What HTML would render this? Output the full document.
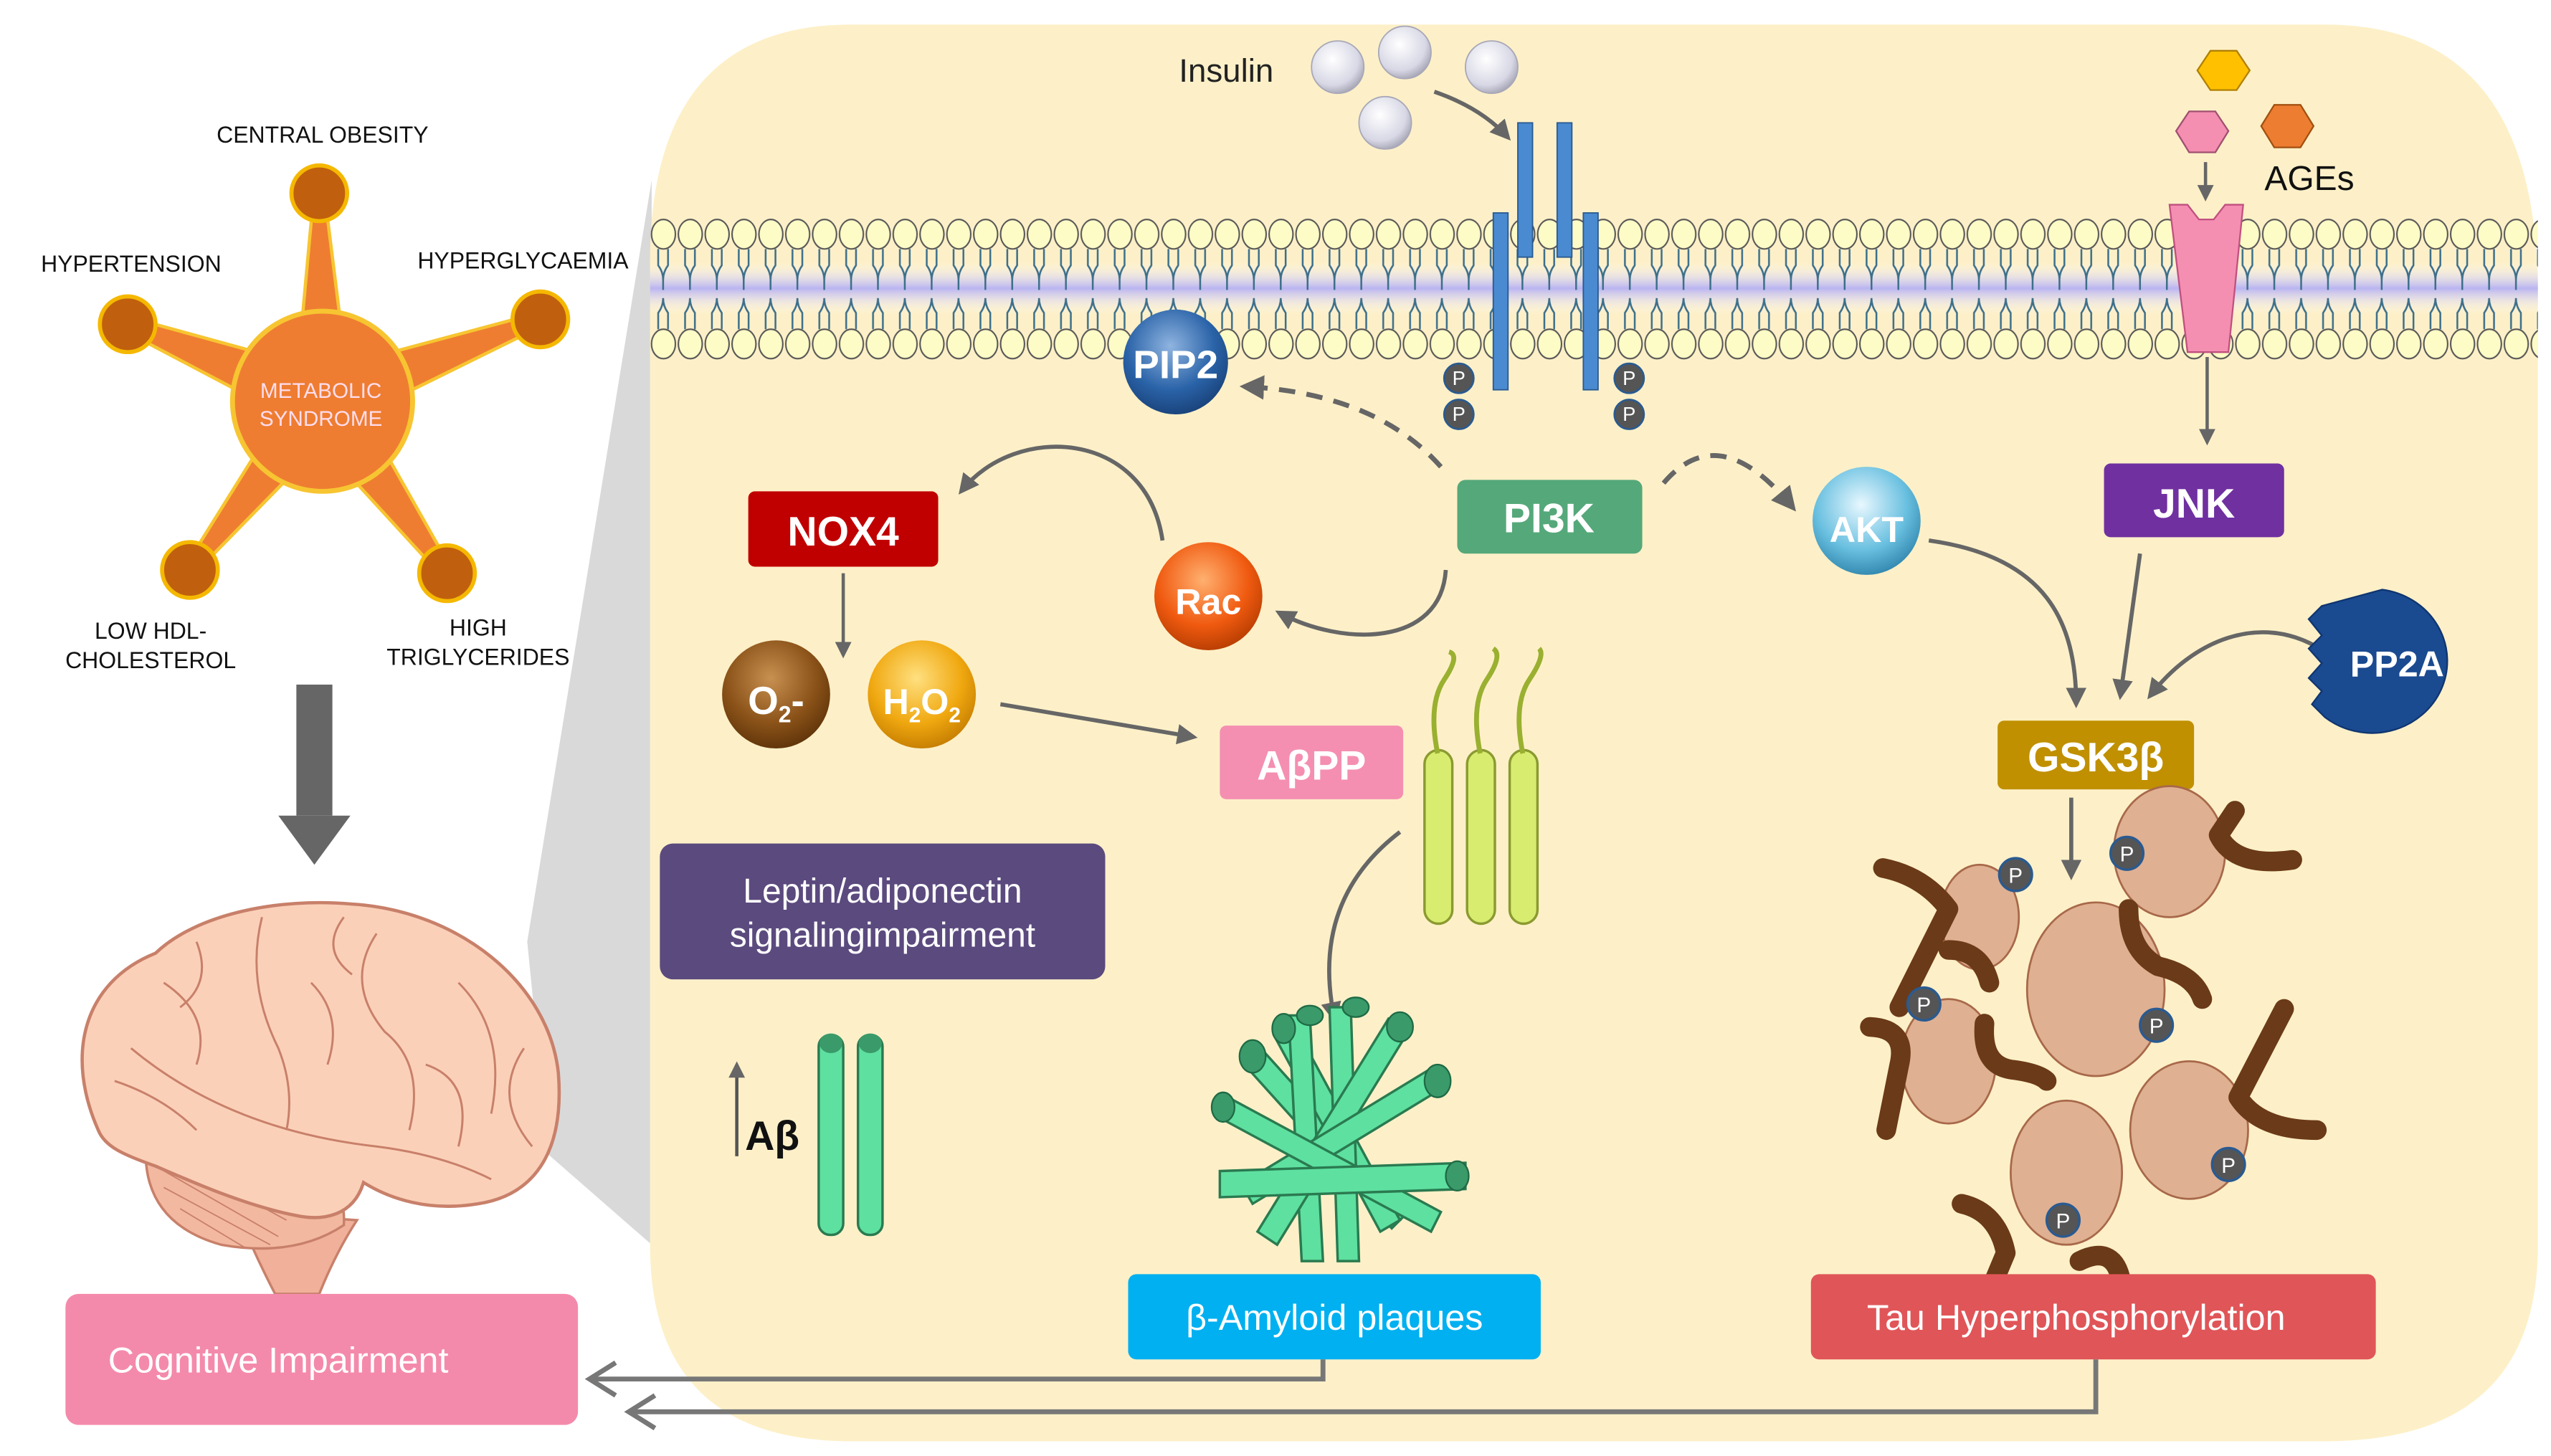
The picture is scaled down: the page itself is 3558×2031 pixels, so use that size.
<!DOCTYPE html>
<html><head><meta charset="utf-8"><style>
html,body{margin:0;padding:0;background:#fff;width:3558px;height:2031px;overflow:hidden}
svg{display:block}
text{font-family:"Liberation Sans",sans-serif}
</style></head><body>
<svg width="3558" height="2031" viewBox="0 0 1558 889" preserveAspectRatio="none" xmlns="http://www.w3.org/2000/svg">
<defs>
<pattern id="heads" x="397" y="0" width="16.4" height="889" patternUnits="userSpaceOnUse">
 <path d="M5,152 v10 q3,4 3,9 M11,152 v10 q-3,4 -3,9 M8,171 v6" stroke="#3d6f8a" stroke-width="1.1" fill="none"/>
 <path d="M5,201 v-10 q3,-4 3,-9 M11,201 v-10 q-3,-4 -3,-9" stroke="#3d6f8a" stroke-width="1.1" fill="none"/>
 <ellipse cx="8.2" cy="143" rx="7.3" ry="9" fill="#fdfbc6" stroke="#555" stroke-width="0.9"/>
 <ellipse cx="8.2" cy="210" rx="7.3" ry="9" fill="#fdfbc6" stroke="#555" stroke-width="0.9"/>
</pattern>
<linearGradient id="band" x1="0" y1="0" x2="0" y2="1">
 <stop offset="0" stop-color="#fff" stop-opacity="0"/><stop offset="0.5" stop-color="#b9b4f0"/><stop offset="1" stop-color="#fff" stop-opacity="0"/>
</linearGradient>
<radialGradient id="gPIP" cx="0.45" cy="0.35" r="0.7"><stop offset="0" stop-color="#8fb4e0"/><stop offset="0.6" stop-color="#2a63a8"/><stop offset="1" stop-color="#173e74"/></radialGradient>
<radialGradient id="gRac" cx="0.45" cy="0.35" r="0.7"><stop offset="0" stop-color="#ffb070"/><stop offset="0.6" stop-color="#f05a10"/><stop offset="1" stop-color="#b03a00"/></radialGradient>
<radialGradient id="gAKT" cx="0.45" cy="0.35" r="0.7"><stop offset="0" stop-color="#e8f8ff"/><stop offset="0.6" stop-color="#6ac0e0"/><stop offset="1" stop-color="#2a80a8"/></radialGradient>
<radialGradient id="gO2" cx="0.45" cy="0.35" r="0.7"><stop offset="0" stop-color="#c89050"/><stop offset="0.6" stop-color="#8a5218"/><stop offset="1" stop-color="#5a3008"/></radialGradient>
<radialGradient id="gH2" cx="0.45" cy="0.35" r="0.7"><stop offset="0" stop-color="#ffe080"/><stop offset="0.6" stop-color="#f0a810"/><stop offset="1" stop-color="#c07800"/></radialGradient>
<radialGradient id="gIns" cx="0.4" cy="0.35" r="0.7"><stop offset="0" stop-color="#fff"/><stop offset="0.7" stop-color="#d8d8e6"/><stop offset="1" stop-color="#a0a0b0"/></radialGradient>
<marker id="ah" viewBox="0 0 10 10" refX="8" refY="5" markerWidth="5" markerHeight="5" orient="auto"><path d="M0,0 L10,5 L0,10 z" fill="#666"/></marker>
</defs>

<!-- gray wedge -->
<polygon points="322,575 398,110 398,760 335,705" fill="#d9d9d9"/>
<!-- panel -->
<path d="M520,15 H1420 Q1550,15 1550,180 V760 Q1550,880 1420,880 H520 Q397,880 397,760 V160 Q397,15 520,15 Z" fill="#fdf0c8"/>

<!-- membrane -->
<rect x="397" y="160" width="1153" height="32" fill="url(#band)"/>
<rect x="397" y="132" width="1153" height="90" fill="url(#heads)"/>

<!-- receptor -->
<rect x="927" y="75" width="9" height="82" fill="#4a8ad0" stroke="#2a5a90" stroke-width="0.8"/>
<rect x="951" y="75" width="9" height="82" fill="#4a8ad0" stroke="#2a5a90" stroke-width="0.8"/>
<rect x="912" y="130" width="9" height="108" fill="#4a8ad0" stroke="#2a5a90" stroke-width="0.8"/>
<rect x="967" y="130" width="9" height="108" fill="#4a8ad0" stroke="#2a5a90" stroke-width="0.8"/>
<g fill="#555" stroke="#2a5a90" stroke-width="1.2">
<circle cx="891" cy="231" r="9"/><circle cx="891" cy="253" r="9"/><circle cx="995" cy="231" r="9"/><circle cx="995" cy="253" r="9"/>
</g>
<g fill="#fff" font-size="12" text-anchor="middle"><text x="891" y="235">P</text><text x="891" y="257">P</text><text x="995" y="235">P</text><text x="995" y="257">P</text></g>

<!-- insulin -->
<g fill="url(#gIns)" stroke="#a8a8b8" stroke-width="0.8">
<circle cx="817" cy="41" r="16"/><circle cx="858" cy="32" r="16"/><circle cx="911" cy="41" r="16"/><circle cx="846" cy="75" r="16"/>
</g>
<text x="720" y="50" font-size="20" fill="#222">Insulin</text>
<path d="M876,56 Q905,66 921,84" stroke="#666" stroke-width="2.5" fill="none" marker-end="url(#ah)"/>

<!-- AGEs -->
<polygon points="1350,31 1366,31 1374,43 1366,55 1350,55 1342,43" fill="#ffc000" stroke="#b08000" stroke-width="1"/>
<polygon points="1337,68 1353,68 1361,80 1353,93 1337,93 1329,80" fill="#f48fb1" stroke="#a05070" stroke-width="1"/>
<polygon points="1389,64 1405,64 1413,77 1405,90 1389,90 1381,77" fill="#ed7d31" stroke="#a05010" stroke-width="1"/>
<text x="1383" y="116" font-size="21" fill="#111">AGEs</text>
<line x1="1347" y1="99" x2="1347" y2="121" stroke="#666" stroke-width="2" marker-end="url(#ah)"/>
<path d="M1325,125 L1336,125 L1343,134 L1352,134 L1359,125 L1370,125 L1361,215 L1336,215 Z" fill="#f48fb1" stroke="#c05080" stroke-width="1"/>
<line x1="1348" y1="218" x2="1348" y2="270" stroke="#666" stroke-width="2" marker-end="url(#ah)"/>

<!-- PIP2 etc -->
<circle cx="718" cy="221" r="32" fill="url(#gPIP)"/>
<text x="718" y="231" font-size="24" font-weight="bold" fill="#fff" text-anchor="middle">PIP2</text>
<path d="M880,285 Q840,240 760,236" stroke="#666" stroke-width="3" stroke-dasharray="10,7" fill="none" marker-end="url(#ah)"/>
<path d="M1016,295 Q1050,255 1095,310" stroke="#666" stroke-width="3" stroke-dasharray="10,7" fill="none" marker-end="url(#ah)"/>

<rect x="890" y="293" width="113" height="45" rx="5" fill="#55a87a"/>
<text x="946" y="325" font-size="25" font-weight="bold" fill="#fff" text-anchor="middle">PI3K</text>

<circle cx="1140" cy="318" r="33" fill="url(#gAKT)"/>
<text x="1140" y="331" font-size="22" font-weight="bold" fill="#fff" text-anchor="middle">AKT</text>

<rect x="1285" y="283" width="110" height="45" rx="4" fill="#7030a0"/>
<text x="1340" y="316" font-size="25" font-weight="bold" fill="#fff" text-anchor="middle">JNK</text>

<rect x="457" y="300" width="116" height="46" rx="4" fill="#c00000"/>
<text x="515" y="333" font-size="25" font-weight="bold" fill="#fff" text-anchor="middle">NOX4</text>

<circle cx="738" cy="364" r="33" fill="url(#gRac)"/>
<text x="738" y="375" font-size="22" font-weight="bold" fill="#fff" text-anchor="middle">Rac</text>
<path d="M710,330 C700,262 620,258 587,300" stroke="#666" stroke-width="2.5" fill="none" marker-end="url(#ah)"/>
<path d="M883,348 C880,395 820,395 781,374" stroke="#666" stroke-width="2.5" fill="none" marker-end="url(#ah)"/>
<line x1="515" y1="350" x2="515" y2="400" stroke="#666" stroke-width="2" marker-end="url(#ah)"/>

<circle cx="474" cy="424" r="33" fill="url(#gO2)"/>
<text x="474" y="436" font-size="24" font-weight="bold" fill="#fff" text-anchor="middle">O<tspan font-size="14" dy="5">2</tspan><tspan dy="-5">-</tspan></text>
<circle cx="563" cy="424" r="33" fill="url(#gH2)"/>
<text x="563" y="436" font-size="22" font-weight="bold" fill="#fff" text-anchor="middle">H<tspan font-size="13" dy="5">2</tspan><tspan dy="-5">O</tspan><tspan font-size="13" dy="5">2</tspan></text>
<line x1="611" y1="430" x2="729" y2="450" stroke="#666" stroke-width="2.5" marker-end="url(#ah)"/>

<rect x="745" y="443" width="112" height="45" rx="4" fill="#f48fb1"/>
<text x="801" y="476" font-size="25" font-weight="bold" fill="#fff" text-anchor="middle">AβPP</text>

<!-- fibrils -->
<g stroke="#8a9a30" stroke-width="1.5" fill="#d8ec70">
<rect x="870" y="458" width="17" height="106" rx="8.5"/>
<rect x="896" y="458" width="17" height="106" rx="8.5"/>
<rect x="922" y="458" width="17" height="106" rx="8.5"/>
</g>
<g stroke="#9ab030" stroke-width="3" fill="none">
<path d="M878,460 Q872,430 882,415 Q892,400 885,398"/>
<path d="M904,460 Q898,430 908,415 Q918,400 912,396"/>
<path d="M930,460 Q924,430 934,415 Q944,400 940,396"/>
</g>
<path d="M855,508 Q800,550 815,622" stroke="#666" stroke-width="2.5" fill="none" marker-end="url(#ah)"/>

<!-- plaque -->
<g stroke="#2a7a50" stroke-width="1.5" fill="#5ee0a0">
<path d="M770,640 L860,740 L850,750 L760,650 Z"/>
<path d="M790,625 L855,745 L843,752 L778,632 Z"/>
<path d="M800,620 L808,770 L795,770 L787,620 Z"/>
<path d="M825,615 L830,770 L817,770 L812,615 Z"/>
<path d="M860,630 L780,760 L768,752 L848,622 Z"/>
<path d="M880,665 L765,735 L758,723 L873,653 Z"/>
<path d="M750,670 L880,740 L874,752 L744,682 Z"/>
<path d="M745,715 L895,710 L895,726 L745,731 Z"/>
</g>
<g fill="#3a9a6a" stroke="#1f6a45" stroke-width="1">
<ellipse cx="765" cy="645" rx="8" ry="10"/><ellipse cx="784" cy="628" rx="7" ry="9"/><ellipse cx="800" cy="620" rx="8" ry="6"/>
<ellipse cx="828" cy="615" rx="8" ry="6"/><ellipse cx="855" cy="627" rx="8" ry="9"/><ellipse cx="878" cy="660" rx="8" ry="10"/>
<ellipse cx="747" cy="676" rx="7" ry="9"/><ellipse cx="890" cy="718" rx="7" ry="9"/>
</g>

<!-- leptin -->
<rect x="403" y="515" width="272" height="83" rx="8" fill="#5b4a7e"/>
<text x="539" y="551" font-size="21" fill="#fff" text-anchor="middle">Leptin/adiponectin</text>
<text x="539" y="578" font-size="21" fill="#fff" text-anchor="middle">signalingimpairment</text>

<!-- Aβ -->
<line x1="450" y1="706" x2="450" y2="650" stroke="#555" stroke-width="2" marker-end="url(#ah)"/>
<text x="455" y="702" font-size="25" font-weight="bold" fill="#111">Aβ</text>
<g stroke="#2a7a50" stroke-width="1.5" fill="#5ee0a0">
<rect x="500" y="632" width="15" height="122" rx="7"/><rect x="524" y="632" width="15" height="122" rx="7"/>
</g>
<ellipse cx="507.5" cy="637" rx="7" ry="6" fill="#3a9a6a"/><ellipse cx="531.5" cy="637" rx="7" ry="6" fill="#3a9a6a"/>

<!-- GSK -->
<rect x="1220" y="440" width="120" height="42" rx="4" fill="#c09000"/>
<text x="1280" y="471" font-size="25" font-weight="bold" fill="#fff" text-anchor="middle">GSK3β</text>
<path d="M1178,330 C1250,340 1268,380 1268,430" stroke="#666" stroke-width="2.5" fill="none" marker-end="url(#ah)"/>
<line x1="1307" y1="338" x2="1295" y2="425" stroke="#666" stroke-width="2.5" marker-end="url(#ah)"/>
<path d="M1415,395 C1380,375 1340,390 1313,425" stroke="#666" stroke-width="2.5" fill="none" marker-end="url(#ah)"/>
<path d="M1455,360 A46,44 0 1,1 1420,438 L1412,430 L1418,422 L1410,414 L1418,405 L1410,396 L1418,388 L1410,378 L1418,370 Z" fill="#1a4a90" stroke="#0f3570" stroke-width="1"/>
<text x="1464" y="413" font-size="22" font-weight="bold" fill="#fff" text-anchor="middle">PP2A</text>
<line x1="1265" y1="487" x2="1265" y2="535" stroke="#666" stroke-width="2.5" marker-end="url(#ah)"/>

<!-- tau -->
<g fill="#dfb092" stroke="#a8684a" stroke-width="1.2">
<ellipse cx="1209" cy="560" rx="24" ry="32"/>
<ellipse cx="1325" cy="520" rx="34" ry="40"/>
<ellipse cx="1280" cy="604" rx="42" ry="53"/>
<ellipse cx="1190" cy="648" rx="29" ry="38"/>
<ellipse cx="1337" cy="690" rx="36" ry="42"/>
<ellipse cx="1262" cy="716" rx="34" ry="44"/>
</g>
<g stroke="#6b3a18" stroke-width="12" fill="none" stroke-linecap="round" stroke-linejoin="round">
<path d="M1150,530 Q1175,535 1190,555 L1160,615"/>
<path d="M1190,580 Q1210,580 1215,600"/>
<path d="M1365,495 L1355,510 Q1365,530 1400,525"/>
<path d="M1300,555 Q1300,580 1318,590 Q1340,595 1345,610"/>
<path d="M1142,627 Q1165,628 1160,650 L1152,690"/>
<path d="M1212,625 Q1210,650 1228,653 Q1245,655 1250,660"/>
<path d="M1395,616 L1367,670 Q1380,690 1415,690"/>
<path d="M1198,735 Q1220,740 1225,765 L1202,820"/>
<path d="M1270,770 Q1290,760 1295,780"/>
</g>
<g fill="#555" stroke="#2a5a90" stroke-width="1.5">
<circle cx="1231" cy="534" r="10"/><circle cx="1299" cy="521" r="10"/><circle cx="1175" cy="613" r="10"/>
<circle cx="1317" cy="626" r="10"/><circle cx="1361" cy="711" r="10"/><circle cx="1260" cy="745" r="10"/>
</g>
<g fill="#fff" font-size="13" text-anchor="middle">
<text x="1231" y="539">P</text><text x="1299" y="526">P</text><text x="1175" y="618">P</text>
<text x="1317" y="631">P</text><text x="1361" y="716">P</text><text x="1260" y="750">P</text>
</g>

<!-- bottom boxes -->
<rect x="689" y="778" width="252" height="52" rx="5" fill="#00b0f0"/>
<text x="815" y="812" font-size="22" fill="#fff" text-anchor="middle" font-family="Liberation Serif,serif">β-Amyloid  plaques</text>
<rect x="1106" y="778" width="345" height="52" rx="5" fill="#e05558"/>
<text x="1268" y="812" font-size="22" fill="#fff" text-anchor="middle">Tau  Hyperphosphorylation</text>
<path d="M808,830 V842 H362" stroke="#777" stroke-width="3" fill="none"/>
<path d="M376,832 L360,842 L376,852" stroke="#777" stroke-width="3" fill="none"/>
<path d="M1280,830 V862 H385" stroke="#777" stroke-width="3" fill="none"/>
<path d="M400,852 L384,862 L400,872" stroke="#777" stroke-width="3" fill="none"/>

<!-- left side: star -->
<g fill="#ee7d31" stroke="#f7c531" stroke-width="2" stroke-linejoin="round">
<polygon points="180,245 214,245 199,125 191,125"/>
<polygon points="204,228 190,262 76,202 80,194"/>
<polygon points="203,262 191,228 329,191 331,199"/>
<polygon points="211,256 183,234 113,346 119,350"/>
<polygon points="212,235 182,256 270,352 276,348"/>
</g>
<circle cx="197" cy="245" r="55" fill="#ee7d31" stroke="#f7c531" stroke-width="3"/>
<g fill="#c0600e" stroke="#f5b800" stroke-width="2.5">
<circle cx="195" cy="118" r="17"/><circle cx="78" cy="198" r="17"/><circle cx="330" cy="195" r="17"/>
<circle cx="116" cy="348" r="17"/><circle cx="273" cy="350" r="17"/>
</g>
<text x="196" y="243" font-size="13" fill="#fde" text-anchor="middle">METABOLIC</text>
<text x="196" y="260" font-size="13" fill="#fde" text-anchor="middle">SYNDROME</text>
<g font-size="14" fill="#111">
<text x="197" y="87" text-anchor="middle">CENTRAL OBESITY</text>
<text x="25" y="166">HYPERTENSION</text>
<text x="255" y="164">HYPERGLYCAEMIA</text>
<text x="92" y="390" text-anchor="middle">LOW HDL-</text>
<text x="92" y="408" text-anchor="middle">CHOLESTEROL</text>
<text x="292" y="388" text-anchor="middle">HIGH</text>
<text x="292" y="406" text-anchor="middle">TRIGLYCERIDES</text>
</g>
<rect x="181" y="418" width="22" height="80" fill="#666"/>
<polygon points="170,498 214,498 192,528" fill="#666"/>

<!-- brain -->
<path d="M145,740 Q155,765 168,790 L195,790 Q205,765 218,745 Z" fill="#f0b09a" stroke="#c8806a" stroke-width="1.5"/>
<path d="M90,690 Q82,745 135,760 Q180,768 210,748 Q212,712 170,700 Z" fill="#f3b8a0" stroke="#c8806a" stroke-width="1.5"/>
<path d="M95,712 L170,755 M100,725 L165,760 M110,738 L150,762 M92,700 L175,745" stroke="#c8806a" stroke-width="0.8"/>
<path d="M60,690 C40,645 50,600 95,582 C120,558 170,548 215,552 C280,556 335,600 341,655 C345,705 325,730 292,735 C262,740 238,732 222,722 C216,742 198,746 180,742 C150,736 118,722 95,712 C75,705 64,700 60,690 Z" fill="#fbd0b8" stroke="#c8806a" stroke-width="2"/>
<g stroke="#c8806a" stroke-width="1.3" fill="none">
<path d="M80,640 Q140,690 230,700 Q270,705 300,720"/>
<path d="M160,560 Q150,600 170,640 Q180,665 175,690"/>
<path d="M230,570 Q210,600 235,630 Q260,650 250,690"/>
<path d="M100,600 Q130,620 120,650"/>
<path d="M280,600 Q310,630 300,680"/>
<path d="M70,660 Q100,670 120,690"/>
<path d="M190,600 Q210,620 200,650"/>
<path d="M260,650 Q290,660 280,700"/>
<path d="M320,640 Q300,670 325,700"/>
<path d="M120,575 Q130,600 110,615"/>
<path d="M210,560 Q195,580 215,595"/>
</g>

<!-- cognitive -->
<rect x="40" y="790" width="313" height="80" rx="8" fill="#f48aab"/>
<text x="66" y="838" font-size="22" fill="#fff">Cognitive Impairment</text>
</svg>
</body></html>
